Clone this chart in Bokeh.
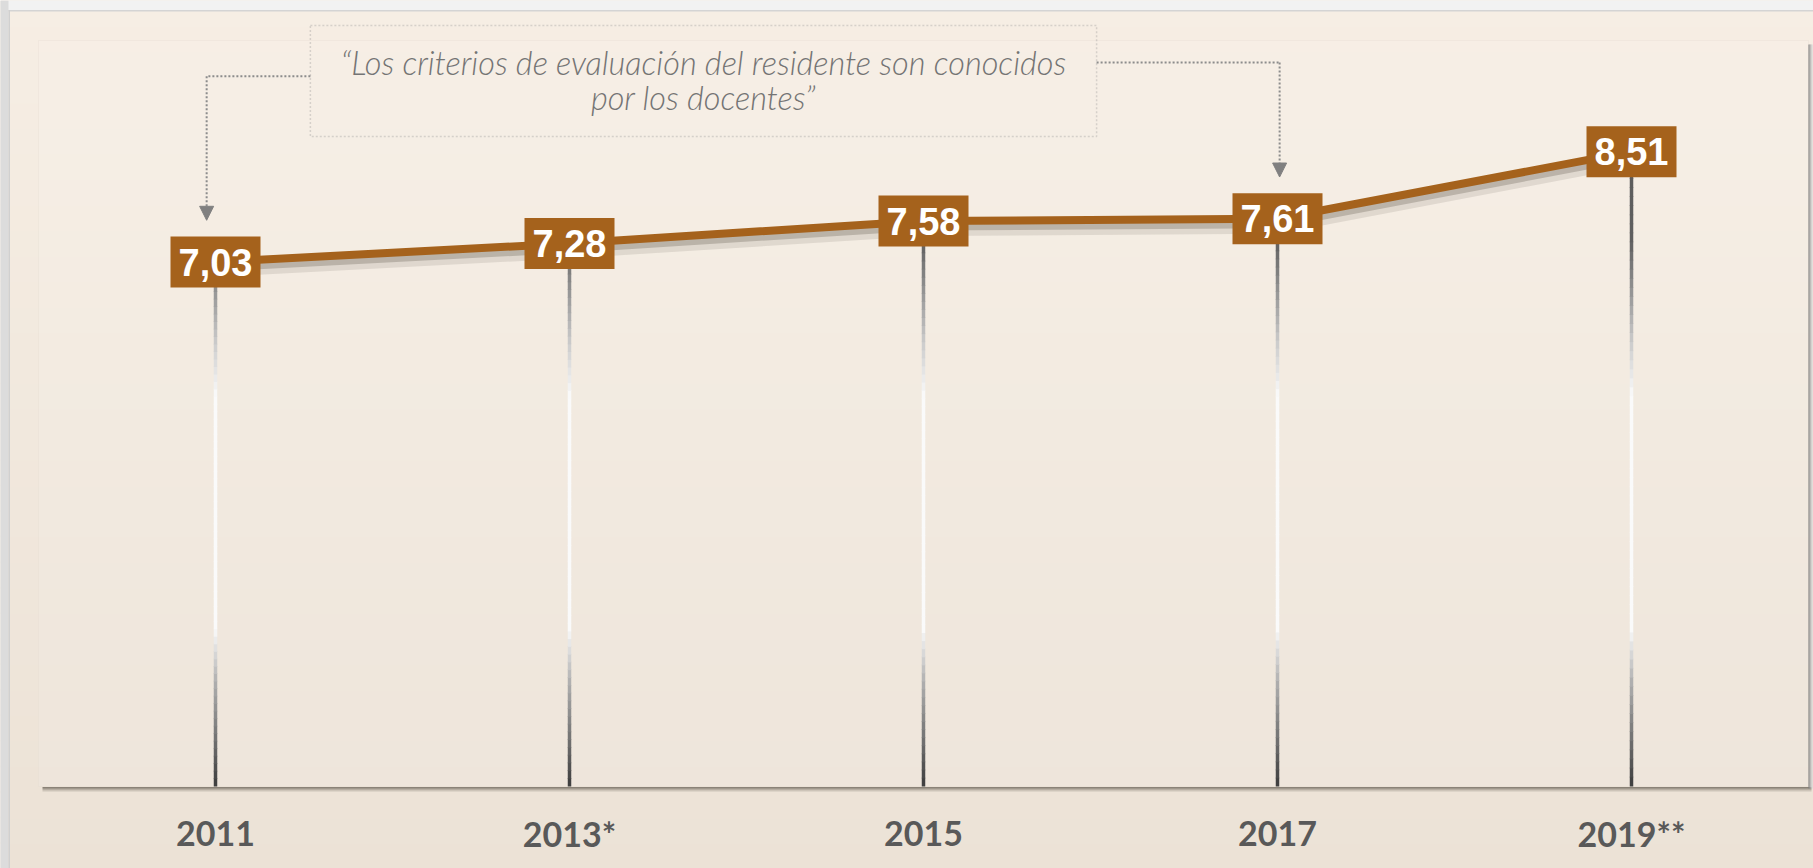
import numpy as np
from bokeh.plotting import figure
from bokeh.models import Range1d, BoxAnnotation, Arrow, NormalHead
from bokeh.core.properties import value
from bokeh.embed import file_html
from bokeh.resources import INLINE

# ---------------- data ----------------
years = ["2011", "2013*", "2015", "2017", "2019**"]
scores = [7.03, 7.28, 7.58, 7.61, 8.51]
quote = "\u201cLos criterios de evaluaci\u00f3n del residente son conocidos\npor los docentes\u201d"
callout_targets = [0, 3]          # categories the dotted arrows point to

# ---------------- styling ----------------
BROWN = "#a5621c"
PX_Y = 1 / 74.6      # one screen pixel in y data units
PX_X = 1 / 354.0     # one screen pixel in x data units
X0, X1 = -215 * PX_X, 1598 * PX_X
Y0, Y1 = -82 * PX_Y, 786 * PX_Y

xs = list(range(len(years)))
labels = [f"{v:.2f}".replace(".", ",") for v in scores]

p = figure(width=1813, height=868,
           x_range=Range1d(X0, X1), y_range=Range1d(Y0, Y1),
           output_backend="svg", toolbar_location=None,
           x_axis_location=None, y_axis_location=None,
           min_border_left=0, min_border_right=0, min_border_top=0, min_border_bottom=0)
p.grid.visible = False
p.outline_line_color = None
p.background_fill_color = "#f1e8dd"
p.border_fill_color = "#ece2d6"

# vertical background gradient (bands)
top_c = np.array([0xf6, 0xee, 0xe4])
bot_c = np.array([0xec, 0xe2, 0xd6])
nb = 34
edges = np.linspace(Y0, Y1, nb + 1)
for i in range(nb):
    t = (i + 0.5) / nb
    c = bot_c + (top_c - bot_c) * t
    col = "#%02x%02x%02x" % tuple(int(round(k)) for k in c)
    p.add_layout(BoxAnnotation(bottom=edges[i] - 0.01, top=edges[i + 1] + 0.01,
                               fill_color=col, fill_alpha=1, line_color=None, level="underlay"))

# page frame strips (top / left)
p.add_layout(BoxAnnotation(bottom=Y1 - 10 * PX_Y, top=Y1 + 0.01, fill_color="#f2f2f2", fill_alpha=1,
                           line_color=None, level="underlay"))
p.add_layout(BoxAnnotation(bottom=Y1 - 11 * PX_Y, top=Y1 - 9.5 * PX_Y, left=X0 + 8 * PX_X, fill_color="#d4d4d4",
                           fill_alpha=1, line_color=None, level="underlay"))
p.add_layout(BoxAnnotation(left=X0 - 0.01, right=X0 + 8 * PX_X, fill_color="#dcdcdc", fill_alpha=1,
                           line_color=None, level="underlay"))
p.add_layout(BoxAnnotation(left=X0 + 8 * PX_X, right=X0 + 9.5 * PX_X, top=Y1 - 9.5 * PX_Y,
                           fill_color="#d0d0d0", fill_alpha=1, line_color=None, level="underlay"))

# inner plot area
p.add_layout(BoxAnnotation(left=-0.5, right=4.5, bottom=0, top=10, fill_color="white", fill_alpha=0.10,
                           line_color="#e6dcd0", line_width=1, level="underlay"))
# shadow under / right of inner area
for k, col in enumerate(["#8a8277", "#9f978b", "#b6ada1", "#cdc4b8", "#ddd4c8"]):
    p.add_layout(BoxAnnotation(left=-0.5 + 4 * PX_X, right=4.5 + 3 * PX_X,
                               bottom=-(k + 1.5) * PX_Y, top=-(k + 0.5) * PX_Y,
                               fill_color=col, fill_alpha=1, line_color=None, level="underlay"))
for k, col in enumerate(["#7d7d7d", "#9a9a9a", "#b8b8b8", "#d4d4d4"]):
    p.add_layout(BoxAnnotation(left=4.5 + k * PX_X, right=4.5 + (k + 1) * PX_X,
                               bottom=-2 * PX_Y, top=10 - 4 * PX_Y,
                               fill_color=col, fill_alpha=1, line_color=None, level="underlay"))

# drop lines with vertical gray gradient
stops_v = [0.0, 0.6, 1.4, 2.1, 5.25, 6.0, 7.3, 10]
stops_g = [0x3c, 0x70, 0xb0, 0xfa, 0xfa, 0xc8, 0x60, 0x58]
nseg = 70
sx, sy0, sy1, scol = [], [], [], []
for x, v in zip(xs, scores):
    e = np.linspace(0, v, nseg + 1)
    for a, b in zip(e[:-1], e[1:]):
        g = int(np.interp((a + b) / 2, stops_v, stops_g))
        sx.append(x); sy0.append(a); sy1.append(b + 0.01)
        scol.append("#%02x%02x%02x" % (g, g, g))
p.segment(x0=sx, y0=sy0, x1=sx, y1=sy1, line_color=scol, line_width=3.5)

# line shadow + line
p.line(xs, [v - 8 * PX_Y for v in scores], line_color="#4d4238", line_alpha=0.12, line_width=14)
p.line(xs, [v - 5 * PX_Y for v in scores], line_color="#4d4238", line_alpha=0.25, line_width=9)
p.line(xs, scores, line_color=BROWN, line_width=8)

# value boxes + labels
p.rect(x=xs, y=scores, width=90, height=51, width_units="screen", height_units="screen",
       fill_color=BROWN, line_color=None)
p.text(x=xs, y=scores, text=labels, text_align="center", text_baseline="middle",
       text_color="white", text_font=value("Liberation Sans"), text_font_style="bold",
       text_font_size="38px")

# quote box
box_l, box_r, box_b, box_t = 0.268, 2.489, 8.713, 10.20
p.add_layout(BoxAnnotation(left=box_l, right=box_r, bottom=box_b, top=box_t, fill_color=None,
                           line_color="#8c8c8c", line_width=1.5, line_dash="2 2"))
p.text(x=[(box_l + box_r) / 2], y=[(box_b + box_t) / 2 + 0.02], text=[quote], text_align="center",
       text_baseline="middle", text_color="#747474", text_font=value("'Lato Light', Lato, sans-serif"),
       text_font_style="italic", text_font_size="32.5px", text_line_height=0.9)

# dotted callout arrows
callout_dx = [-0.025, 0.006]
callout_y = [9.52, 9.705]
callout_from = [box_l, box_r]
for t, dx, cy, fx in zip(callout_targets, callout_dx, callout_y, callout_from):
    ax = xs[t] + dx
    p.segment(x0=[fx], y0=[cy], x1=[ax], y1=[cy], line_color="#8c8c8c", line_width=2, line_dash="2 2")
    p.add_layout(Arrow(end=NormalHead(size=14, fill_color="#808080", line_color="#808080"),
                       x_start=ax, y_start=cy, x_end=ax, y_end=scores[t] + 0.56,
                       line_color="#8c8c8c", line_width=2, line_dash="2 2"))

# category labels under the plot area
p.text(x=xs, y=[-47 * PX_Y] * len(xs), text=years, text_align="center", text_baseline="middle",
       text_color="#595959", text_font=value("Lato"), text_font_style="bold", text_font_size="34px")

open("out.html", "w").write(file_html(p, INLINE))
